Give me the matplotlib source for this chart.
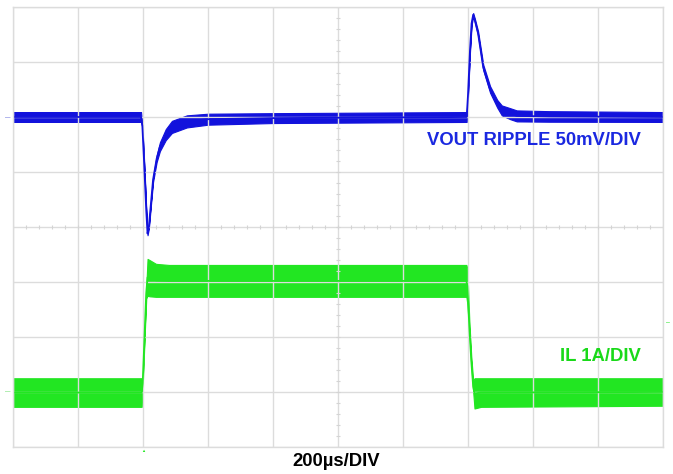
import matplotlib
matplotlib.use("Agg")
import matplotlib.pyplot as plt
import numpy as np

# ---- data (time in µs, Vout ripple in mV rel. to baseline, IL in A) ----
t_vout = [0, 394, 398, 404, 410, 414, 418, 424, 431, 442, 452, 470, 489, 535, 600, 800,
          1396, 1400, 1406, 1411, 1416, 1421, 1431, 1447, 1468, 1490, 1504, 1530, 1550, 1650, 2000]
vout_mv = [0, 0, -8, -45, -85, -106, -100, -80, -57, -38, -27, -16, -9, -4, -2, -1,
           0, 20, 60, 85, 93, 88, 76, 45, 25, 12, 6, 3, 1, 0.5, 0]
vout_noise = [4.5, 4.5, 1.5, 1.5, 1.5, 1.5, 1.5, 1.5, 2, 3, 4, 5, 5.5, 5.5, 5, 4.5,
              4.5, 1.5, 1.5, 1.5, 1.5, 1.5, 2, 2.5, 3, 3.5, 4.5, 5, 5, 4.8, 4.5]

t_il = [0, 396, 399, 402, 406, 410, 414, 420, 440, 480, 1395, 1398, 1404, 1410, 1416, 1420, 1440, 2000]
il_lo = [-0.27, -0.27, 0.10, 0.55, 1.15, 1.70, 1.75, 1.74, 1.73, 1.73, 1.73, 1.60, 1.10, 0.50, 0.00, -0.30, -0.27, -0.25]
il_hi = [0.25, 0.25, 0.22, 0.65, 1.25, 1.90, 2.42, 2.40, 2.33, 2.31, 2.31, 2.25, 1.30, 0.65, 0.20, 0.25, 0.25, 0.25]

vout_scale = 50.0   # mV/div
il_scale = 1.0      # A/div
vout_offset = 2.0   # div
il_offset = -3.0    # div
time_div = 200      # µs/div

BLUE = "#1212dc"
GREEN = "#22e622"
GRID = "#dcdcdc"

plt.rcParams['font.family'] = ['Liberation Sans', 'DejaVu Sans']

fig = plt.figure(figsize=(6.73, 4.74), dpi=100)
ax = fig.add_axes([13 / 673, 27 / 474, 650 / 673, 440 / 474])
ax.set_xlim(0, 10 * time_div)
ax.set_ylim(-4, 4)

ax.set_xticks(np.arange(0, 10 * time_div + 1, time_div))
ax.set_yticks(np.arange(-4, 5, 1))
ax.grid(True, color=GRID, lw=1.0)
ax.tick_params(length=0, labelbottom=False, labelleft=False)
for s in ax.spines.values():
    s.set_color(GRID)
    s.set_linewidth(1.0)

# center-line minor ticks
mx = np.arange(0, 10 * time_div + 1, time_div / 5)
ax.plot(mx, np.zeros_like(mx), ls='none', marker='|', ms=3, color="#d4d4d4", mew=0.8)
my = np.arange(-4, 4.01, 0.2)
ax.plot(np.full_like(my, 5 * time_div), my, ls='none', marker='_', ms=3, color="#d4d4d4", mew=0.8)

# Vout trace
tv = np.array(t_vout, float)
vc = vout_offset + np.array(vout_mv) / vout_scale
vn = np.array(vout_noise) / vout_scale
ax.fill_between(tv, vc - vn, vc + vn, color=BLUE, lw=0.8, edgecolor=BLUE)
ax.plot(tv, vc, color=BLUE, lw=1.3)

# IL trace
ti = np.array(t_il, float)
lo = il_offset + np.array(il_lo) / il_scale
hi = il_offset + np.array(il_hi) / il_scale
ax.fill_between(ti, lo, hi, color=GREEN, lw=0.8, edgecolor=GREEN)
ax.plot(ti, (lo + hi) / 2, color=GREEN, lw=1.3)

# channel markers
fig.text(8 / 673, 1 - 117 / 474, "\u2013", color="#9aa0e8", fontsize=7, ha='center', va='center')
fig.text(8 / 673, 1 - 391 / 474, "\u2013", color="#9ae89a", fontsize=7, ha='center', va='center')
fig.text(143 / 673, 1 - 451 / 474, "\u25b2", color=GREEN, fontsize=3, ha='center', va='center')
fig.text(668 / 673, 1 - 323 / 474, "\u2013", color=GREEN, fontsize=5, ha='center', va='center')

# labels
ax.text(1932, 1.58, "VOUT RIPPLE 50mV/DIV", color="#1a28e0", fontsize=13.3,
        fontweight='bold', ha='right', va='center')
ax.text(1932, -2.36, "IL 1A/DIV", color="#19d919", fontsize=13.3,
        fontweight='bold', ha='right', va='center')
fig.text(336 / 673, 1 - 462 / 474, "200µs/DIV", color="black", fontsize=13.3,
         fontweight='bold', ha='center', va='center')

fig.savefig("out.png", dpi=100)
